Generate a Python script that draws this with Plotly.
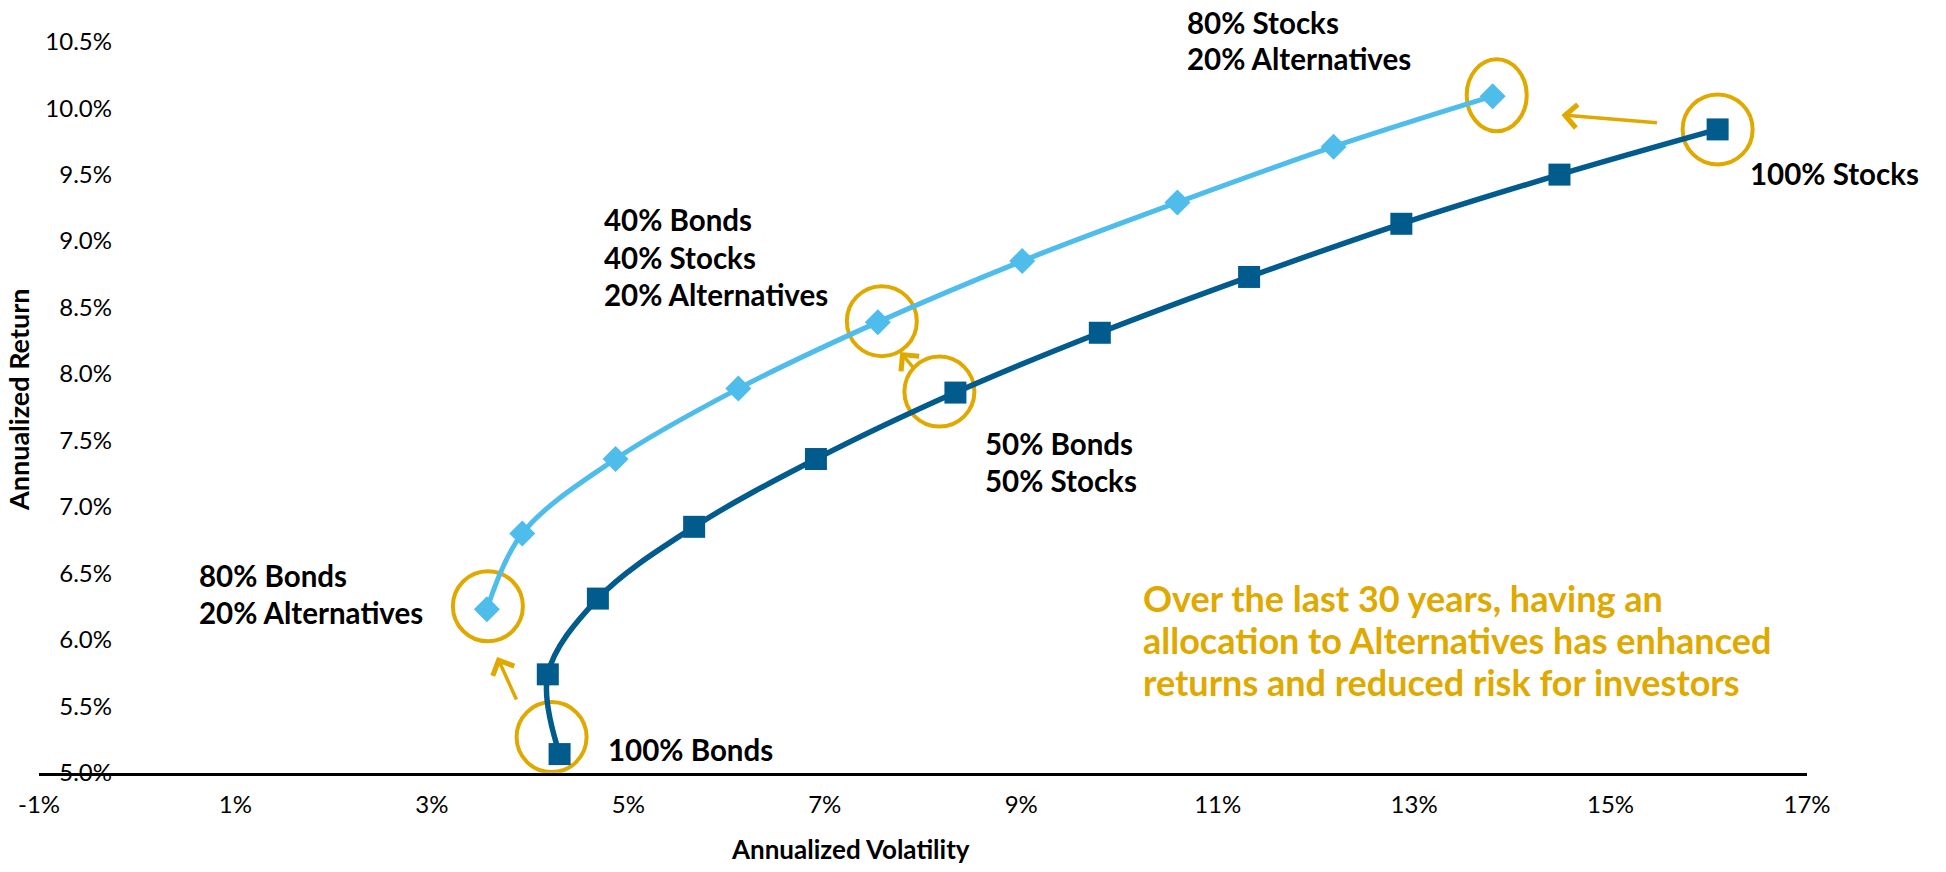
import plotly.graph_objects as go

# ---------------- data ----------------
# Bonds / Stocks mixes: 100% Bonds ... 100% Stocks (10% steps)
bs_vol = [4.30, 4.18, 4.69, 5.67, 6.91, 8.33, 9.80, 11.32, 12.87, 14.48, 16.09]
bs_ret = [5.14, 5.74, 6.31, 6.85, 7.36, 7.86, 8.31, 8.73, 9.13, 9.50, 9.84]
# 20% Alternatives + Bonds/Stocks: 80% Bonds ... 80% Stocks (10% steps)
alt_vol = [3.56, 3.92, 4.87, 6.12, 7.54, 9.01, 10.59, 12.18, 13.80]
alt_ret = [6.23, 6.80, 7.36, 7.89, 8.39, 8.85, 9.29, 9.71, 10.09]

x_ticks = [-1, 1, 3, 5, 7, 9, 11, 13, 15, 17]
x_tick_text = ["-1%", "1%", "3%", "5%", "7%", "9%", "11%", "13%", "15%", "17%"]
y_ticks = [5.0, 5.5, 6.0, 6.5, 7.0, 7.5, 8.0, 8.5, 9.0, 9.5, 10.0, 10.5]
y_tick_text = ["5.0%", "5.5%", "6.0%", "6.5%", "7.0%", "7.5%", "8.0%", "8.5%",
               "9.0%", "9.5%", "10.0%", "10.5%"]

# ---------------- styling ----------------
W, H = 1946, 872
DARK = "#015B8D"
LIGHT = "#4EBDEB"
GOLD = "#E0A900"
FONT = "Lato"

fig = go.Figure()
fig.add_trace(go.Scatter(
    x=alt_vol, y=alt_ret, mode="lines+markers", line_shape="spline",
    line=dict(color=LIGHT, width=5),
    marker=dict(symbol="diamond", size=20, color=LIGHT),
    cliponaxis=False, hoverinfo="skip"))
fig.add_trace(go.Scatter(
    x=bs_vol, y=bs_ret, mode="lines+markers", line_shape="spline",
    line=dict(color=DARK, width=5.5),
    marker=dict(symbol="square", size=22, color=DARK),
    cliponaxis=False, hoverinfo="skip"))

# highlight circles around selected points: (series, index, dx, dy, rx, ry) px
series = {"bs": (bs_vol, bs_ret), "alt": (alt_vol, alt_ret)}
highlights = [("bs", 0, -8, 17, 35, 35), ("alt", 0, 1, 3, 35, 35),
              ("bs", 5, -16, 1, 35, 35), ("alt", 4, 4, 1, 35, 35),
              ("bs", 10, 0, 0, 35, 35), ("alt", 8, 4, 1, 30, 36)]
for s, i, dx, dy, rx, ry in highlights:
    xs, ys = series[s]
    fig.add_shape(type="circle", xref="x", yref="y",
                  xsizemode="pixel", ysizemode="pixel",
                  xanchor=xs[i], yanchor=ys[i],
                  x0=dx - rx, x1=dx + rx, y0=dy - ry, y1=dy + ry,
                  line=dict(color=GOLD, width=4), layer="below")

# arrows (head in data units, tail offset in px)
arrows = [(3.664, 5.871, 20, 44), (7.768, 8.166, 15, 18), (14.50, 9.949, 97, 8)]
for hx, hy, ax, ay in arrows:
    fig.add_annotation(x=hx, y=hy, xref="x", yref="y", ax=ax, ay=ay,
                       text="", showarrow=True, arrowhead=4, arrowsize=1.3,
                       arrowwidth=3.5, arrowcolor=GOLD)


def add_lines(lines, left, first_cy, spacing, size, color, bold=True):
    for k, t in enumerate(lines):
        fig.add_annotation(
            x=left / W, y=1 - (first_cy + k * spacing) / H,
            xref="paper", yref="paper", xanchor="left", yanchor="middle",
            text=t, showarrow=False,
            font=dict(family=FONT, size=size, color=color,
                      weight="bold" if bold else "normal"))


LS = 29.5
add_lines(["80% Stocks", "20% Alternatives"], 1185, 22, 37, LS, "black")
add_lines(["40% Bonds", "40% Stocks", "20% Alternatives"], 602, 220, 37, LS, "black")
add_lines(["80% Bonds", "20% Alternatives"], 197, 575, 37, LS, "black")
add_lines(["50% Bonds", "50% Stocks"], 983, 443, 37, LS, "black")
add_lines(["100% Bonds"], 606, 749, 37, LS, "black")
add_lines(["100% Stocks"], 1748, 173, 37, LS, "black")
add_lines(["Over the last 30 years, having an",
           "allocation to Alternatives has enhanced",
           "returns and reduced risk for investors"], 1141, 598, 42, 36, GOLD)

# axis titles
fig.add_annotation(x=850 / W, y=1 - 849 / H, xref="paper", yref="paper",
                   xanchor="center", yanchor="middle",
                   text="Annualized Volatility", showarrow=False,
                   font=dict(family=FONT, size=26, color="black", weight="bold"))
fig.add_annotation(x=18 / W, y=1 - 400 / H, xref="paper", yref="paper",
                   xanchor="center", yanchor="middle",
                   text="Annualized Return", showarrow=False, textangle=-90,
                   font=dict(family=FONT, size=27, color="black", weight="bold"))

fig.update_layout(
    width=W, height=H,
    margin=dict(l=0, r=0, t=0, b=0, pad=0, autoexpand=False),
    paper_bgcolor="white", plot_bgcolor="white", showlegend=False,
    xaxis=dict(domain=[39 / W, 1807 / W], range=[-1, 17], automargin=False,
               tickmode="array", tickvals=x_ticks, ticktext=x_tick_text,
               showgrid=False, zeroline=False, showline=True,
               linecolor="black", linewidth=2.5, ticks="",
               ticklabelstandoff=9,
               tickfont=dict(family=FONT, size=24, color="black")),
    yaxis=dict(domain=[1 - 772.7 / H, 1 - 41.7 / H], range=[5.0, 10.5],
               automargin=False, anchor="free", position=112 / W,
               tickmode="array", tickvals=y_ticks, ticktext=y_tick_text,
               showgrid=False, zeroline=False, showline=False, ticks="",
               tickfont=dict(family=FONT, size=24, color="black")),
)

fig.write_html(
    "out.html",
    config={"displayModeBar": False},
    post_script="document.body.style.margin='0';"
                "document.body.style.overflow='hidden';")
